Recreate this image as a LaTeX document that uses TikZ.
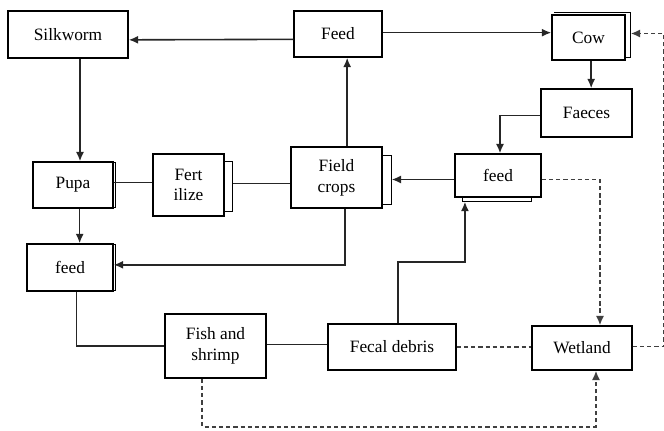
\documentclass[tikz,border=0pt]{standalone}
\usepackage{fontspec}
\setmainfont{Liberation Serif}
\newfontfamily\boxfont{Liberation Serif}
\usepackage{tikz}
\usetikzlibrary{arrows.meta,calc}

\begin{document}
\begin{tikzpicture}[x=0.75pt,y=-0.75pt,
    box/.style={draw, line width=1.1pt, fill=white, inner sep=0pt, align=center,
      font=\boxfont\fontsize{13}{15.5}\selectfont},
    link/.style={draw=black!85, line width=1.2pt},
    arr/.style={link, -{Latex[length=7pt,width=6pt]}},
    dashlink/.style={draw=black!75, line width=1.2pt, dash pattern=on 3.2pt off 2.2pt},
    dasharr/.style={dashlink, -{Latex[length=7pt,width=6pt]}},
    back/.style={draw, line width=1.1pt}]
    \useasboundingbox (0,0) rectangle (664,430);
    % boxes
    \node[box, minimum width=90pt, minimum height=35.25pt] (silkworm) at (68,34.5) {Silkworm};
    \node[box, minimum width=66pt, minimum height=34.5pt] (feed) at (338,34) {Feed};
    \node[box, minimum width=54.75pt, minimum height=33.75pt] (cow) at (588.5,37.5) {Cow};
    \node[box, minimum width=68.25pt, minimum height=36pt] (faeces) at (586.5,113) {Faeces};
    \node[box, minimum width=64.5pt, minimum height=32.25pt] (feedb) at (498,175.5) {feed};
    \node[box, minimum width=68.25pt, minimum height=45.75pt] (crops) at (336.5,177.5) {Field\\crops};
    \node[box, minimum width=60pt, minimum height=34.5pt] (pupa) at (73,185) {Pupa};
    \node[box, minimum width=53.25pt, minimum height=46.5pt] (fert) at (188.5,185) {Fert\\ilize};
    \node[box, minimum width=64.5pt, minimum height=35.25pt] (feeda) at (70,267.5) {feed};
    \node[box, minimum width=75.75pt, minimum height=48pt] (fish) at (215.5,346) {Fish and\\shrimp};
    \node[box, minimum width=96pt, minimum height=34.5pt] (fecal) at (392,347) {Fecal debris};
    \node[box, minimum width=75pt, minimum height=33pt] (wetland) at (582,348) {Wetland};

    % back frames
    \draw[back] ([shift={(3,-2)}]cow.north west) -| ([shift={(5,-3)}]cow.south east) -- ([yshift=2.25pt]cow.south east);
    \coordinate (cowback) at ([shift={(5,-4)}]cow.east);
    \draw[back] ([yshift=-7pt]crops.north east) -- ++(9,0) coordinate (cropsback) |- ([yshift=3pt]crops.south east);
    \draw[back] ([yshift=-6pt]fert.north east) -- ++(8,0) coordinate (fertback) |- ([yshift=4pt]fert.south east);
    \draw[back] ([xshift=6pt]feedb.south west) -- ++(0,4) coordinate (feedbback) -| ([xshift=-7.5pt]feedb.south east);
    \draw[back] ([yshift=-1pt]pupa.north east) -- ++(2,0) |- ([yshift=1pt]pupa.south east);
    \draw[back] ([yshift=-1pt]feeda.north east) -- ++(2,0) |- ([yshift=1pt]feeda.south east);

    % solid links
    \draw[arr] ([yshift=-4pt]feed.west) -- ([yshift=-4pt]silkworm.east);
    \draw[arr] ([yshift=1pt]feed.east) -- ([yshift=1pt]feed.east -| cow.west);
    \draw[arr] ([xshift=2pt]cow.south) -- ([xshift=2pt]cow.south |- faeces.north);
    \draw[arr] ([yshift=-2pt]faeces.west) -| ([xshift=1.5pt]feedb.north);
    \draw[arr] ([yshift=-3pt]feedb.west) -- ([yshift=-3pt]feedb.west -| cropsback);
    \draw[arr] ([xshift=8pt]crops.north) -- ([xshift=8pt]crops.north |- feed.south);
    \draw[arr] ([xshift=6.5pt]crops.south) |- ([yshift=2pt]feeda.east);
    \draw[arr] ([xshift=9pt]silkworm.south) -- ([xshift=9pt]silkworm.south |- pupa.north);
    \draw[arr] ([xshift=5pt]pupa.south) -- ([xshift=5pt]pupa.south |- feeda.north);
    \draw[link] ([yshift=2pt]pupa.east) -- ([yshift=2pt]pupa.east -| fert.west);
    \draw[link] ([yshift=1pt]fert.east -| fertback) -- ([yshift=1pt]fert.east -| crops.west);
    \draw[link] ([xshift=5pt]feeda.south) |- (fish.west);
    \draw[link] ([yshift=1pt]fish.east) -- ([yshift=1pt]fish.east -| fecal.west);
    \draw[arr] ([xshift=4.5pt]fecal.north) -- ++(0,-61) -| ([xshift=2pt]feedbback);

    % dashed links
    \draw[dashlink] (fecal.east) -- (fecal.east -| wetland.west);
    \draw[dasharr] ([yshift=-3pt]feedb.east) -| ([xshift=13.5pt]wetland.north);
    \draw[dasharr] ([yshift=1pt]wetland.east) -- ++(31,0) |- (cowback);
    \draw[dasharr] ([xshift=-10pt]fish.south) -- ++(0,48) -| ([xshift=10.5pt]wetland.south);
\end{tikzpicture}
\end{document}
